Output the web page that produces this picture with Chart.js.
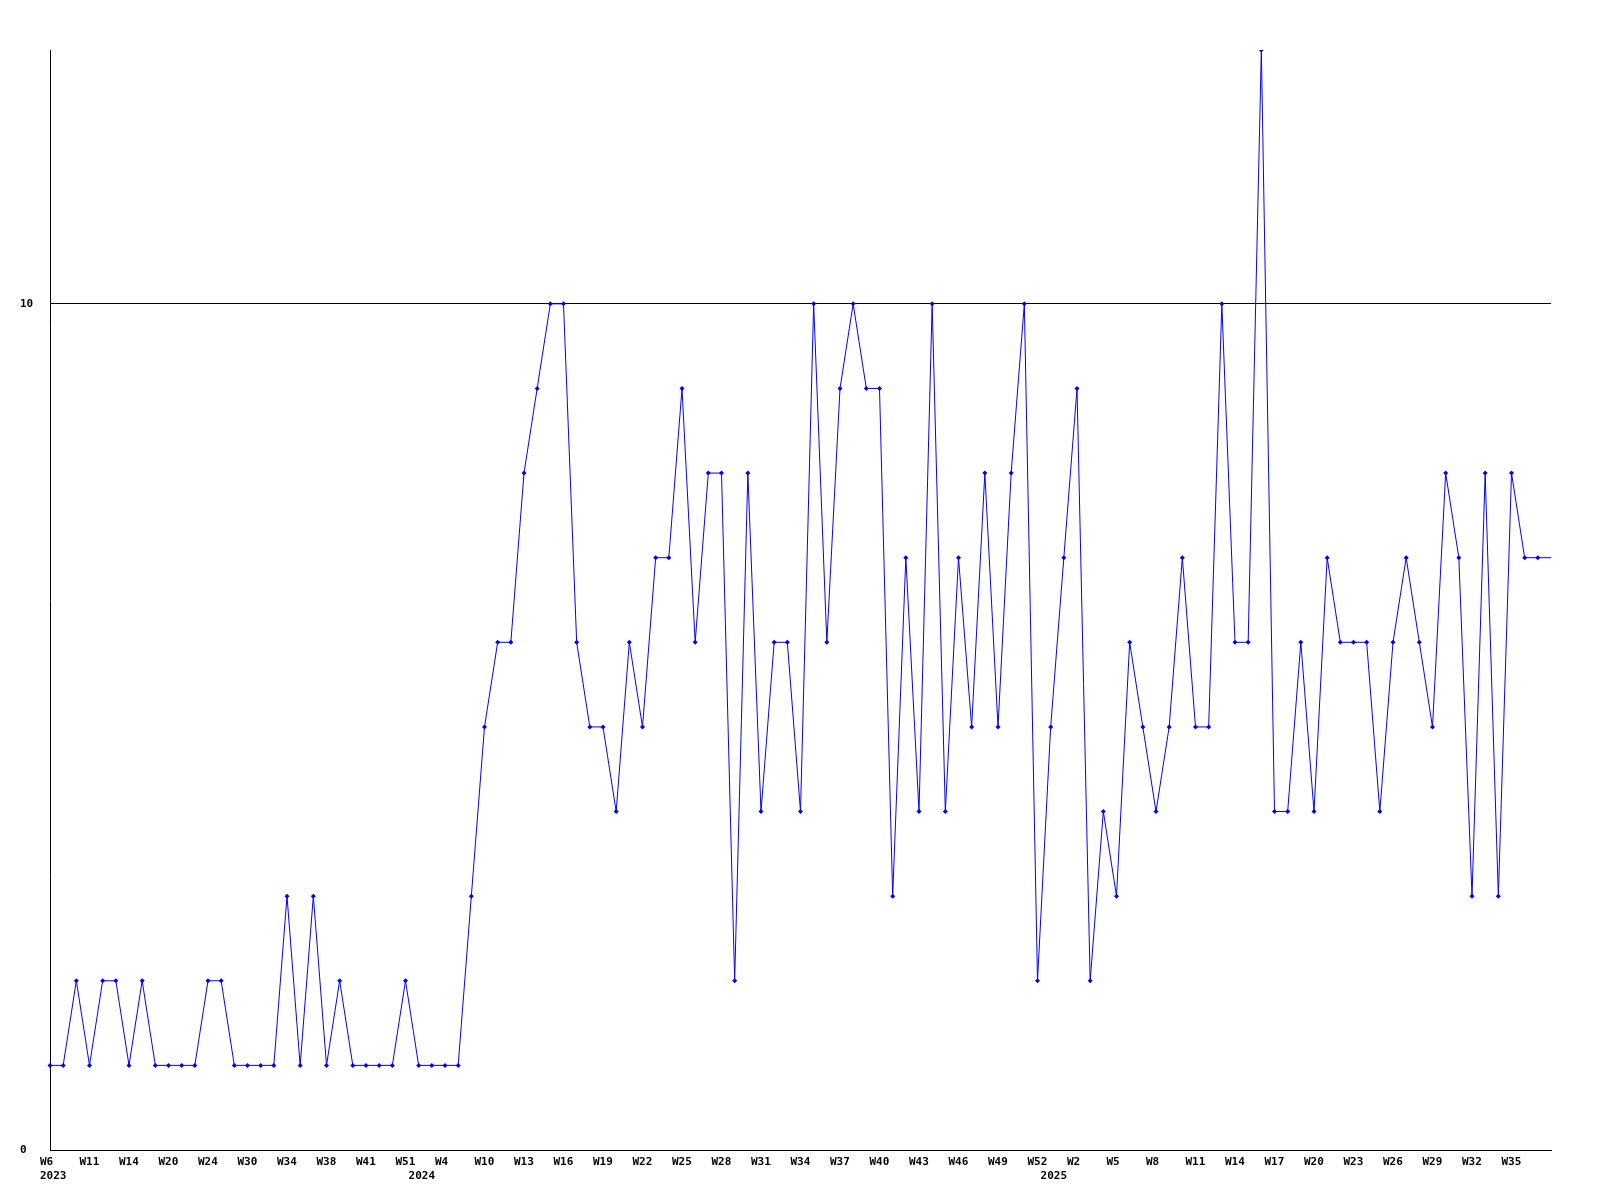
<!DOCTYPE html>
<html>
<head>
<meta charset="utf-8">
<script src="https://cdn.jsdelivr.net/npm/chart.js@4/dist/chart.umd.min.js"></script>
<style>
  html, body { margin: 0; padding: 0; background: #ffffff; }
  #wrap { width: 1600px; height: 1200px; position: relative; }
</style>
</head>
<body>
<div id="wrap"><canvas id="c" width="1600" height="1200"></canvas></div>
<script>
// Week categories (one per data point)
const weekLabels = [
  'W6','W7','W9','W11','W12','W13','W14','W16','W18','W20','W21','W22','W24','W26','W28','W30','W31','W33','W34','W35','W36','W38','W39','W40','W41','W45','W48','W51','W52',
  'W2','W4','W6','W8','W10','W11','W12','W13','W14','W15','W16','W17','W18','W19','W20','W21','W22','W23','W24','W25','W26','W27','W28','W29','W30','W31','W32','W33','W34','W35','W36','W37','W38','W39','W40','W41','W42','W43','W44','W45','W46','W47','W48','W49','W50','W51','W52',
  'W53','W1','W2','W3','W4','W5','W6','W7','W8','W9','W10','W11','W12','W13','W14','W15','W16','W17','W18','W19','W20','W21','W22','W23','W24','W25','W26','W27','W28','W29','W30','W31','W32','W33','W34','W35','W36','W37','W38'
];

// Series values
const values = [
  1,1,2,1,2,2,1,2,1,1,1,1,2,2,1,1,1,1,3,1,3,1,2,1,1,1,1,2,1,1,1,1,
  3,5,6,6,8,9,10,10,6,5,5,4,6,5,7,7,9,6,8,8,2,8,4,6,6,4,10,6,9,10,9,9,3,7,4,10,4,7,5,8,5,8,10,
  2,5,7,9,2,4,3,6,5,4,5,7,5,5,10,6,6,13,
  4,4,6,4,7,6,6,6,4,6,7,6,5,8,7,3,8,3,8,7,7,7
];

// Year labels and the category index they sit under
const yearLabelIndex = [0, 30, 78];
const yearLabelText = ['2023', '2024', '2025'];

// Y tick values shown
const yTickValues = [0, 10];

const FONT = { family: '"DejaVu Sans Mono", "Liberation Mono", monospace', size: 11, weight: 'bold' };

function yearAt(i, first) {
  const k = yearLabelIndex.indexOf(i);
  if (k < 0) return null;
  if (first !== (yearLabelIndex[k] === 0)) return null;
  return yearLabelText[k];
}

const yearAxisBase = {
  type: 'category',
  position: 'bottom',
  offset: false,
  grid: { display: false, drawTicks: false },
  border: { display: false }
};

// Put both year label rows on the same line (first year label is left-aligned, later ones right-aligned)
const sameYearRow = {
  id: 'sameYearRow',
  afterLayout(chart) {
    const a = chart.scales.xYearFirst, b = chart.scales.xYear;
    if (a && b) { b.top = a.top; b.bottom = a.bottom; }
  }
};

new Chart(document.getElementById('c'), {
  type: 'line',
  data: {
    labels: weekLabels,
    datasets: [{
      data: values,
      borderColor: '#0000ff',
      backgroundColor: '#0000ff',
      borderWidth: 1,
      tension: 0,
      fill: false,
      pointStyle: 'rectRot',
      pointRadius: (ctx) => ctx.dataIndex === values.length - 1 ? 0 : 2.5,
      pointBorderWidth: 0,
      pointBackgroundColor: '#0000ff',
      pointBorderColor: '#0000ff'
    }]
  },
  plugins: [sameYearRow],
  options: {
    responsive: false,
    animation: false,
    devicePixelRatio: 1,
    layout: { padding: { left: 20, top: 50, right: 49, bottom: 4 } },
    plugins: { legend: { display: false }, tooltip: { enabled: false } },
    scales: {
      x: {
        type: 'category',
        position: 'bottom',
        offset: false,
        weight: 0,
        afterFit: (s) => { s.height = 20; },
        grid: { display: false, drawTicks: false },
        border: { display: true, color: '#000000', width: 1 },
        ticks: {
          autoSkip: false,
          maxRotation: 0,
          minRotation: 0,
          align: 'start',
          labelOffset: -10,
          padding: 6,
          color: '#000000',
          font: FONT,
          callback: (v, i) => (i % 3 === 0 && i < weekLabels.length - 1 ? weekLabels[i] : null)
        }
      },
      xYearFirst: Object.assign({}, yearAxisBase, {
        weight: 1,
        afterFit: (s) => { s.height = 13; },
        ticks: {
          autoSkip: false, maxRotation: 0, minRotation: 0,
          align: 'start', labelOffset: -10, padding: 0,
          color: '#000000', font: FONT,
          callback: (v, i) => yearAt(i, true)
        }
      }),
      xYear: Object.assign({}, yearAxisBase, {
        weight: 2,
        afterFit: (s) => { s.height = 13; },
        ticks: {
          autoSkip: false, maxRotation: 0, minRotation: 0,
          align: 'end', labelOffset: -10, padding: 0,
          color: '#000000', font: FONT,
          callback: (v, i) => yearAt(i, false)
        }
      }),
      y: {
        type: 'linear',
        min: 0,
        max: 13,
        afterFit: (s) => { s.width = 30; },
        afterBuildTicks: (s) => { s.ticks = yTickValues.map(v => ({ value: v })); },
        grid: { display: true, color: '#000000', lineWidth: 1, drawTicks: false },
        border: { display: true, color: '#000000', width: 1 },
        ticks: {
          crossAlign: 'far',
          padding: 0,
          color: '#000000',
          font: FONT
        }
      }
    }
  }
});
</script>
</body>
</html>
